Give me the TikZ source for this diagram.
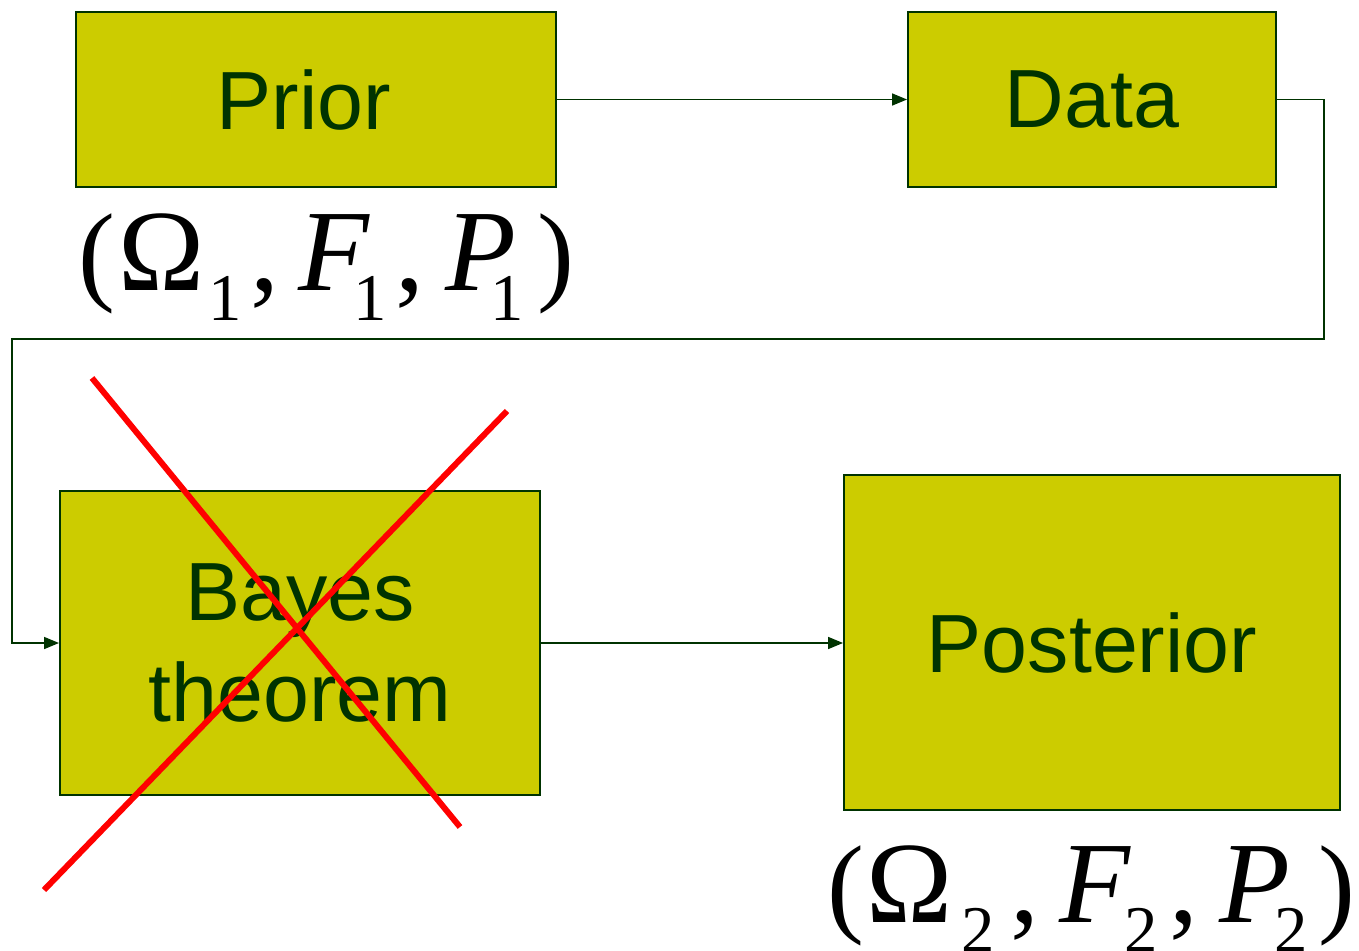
\documentclass[tikz,border=0pt]{standalone}
\usepackage{fontspec}
\setmainfont{Liberation Sans}
\newfontfamily\tms{Liberation Serif}
\usetikzlibrary{arrows.meta}
\definecolor{boxfill}{RGB}{204,204,0}
\definecolor{dgreen}{RGB}{0,51,0}
\definecolor{xred}{RGB}{255,0,0}
\newlength\pxu
\setlength\pxu{0.02cm}
\newcommand\gl[2]{\makebox[#1\pxu][l]{#2}}
\newcommand\sbs[2]{\raisebox{-#1\pxu}{\fontsize{38}{38}\selectfont #2}}
\newcommand\pr[1]{{\fontsize{63}{63}\selectfont #1}}
\begin{document}
\begin{tikzpicture}[x=0.02cm,y=-0.02cm,
  blk/.style={draw=dgreen,line width=1.1pt,fill=boxfill,text=dgreen,inner sep=0pt,
    font=\fontsize{47}{58}\selectfont,align=center},
  conn/.style={draw=dgreen,line width=0.9pt,-{Triangle[length=0.3cm,width=0.24cm]}},
  cross/.style={draw=xred,line width=3.4pt},
  mathlab/.style={inner sep=0pt,anchor=base west,font=\tms\fontsize{66}{66}\selectfont}]
\useasboundingbox (0,0) rectangle (1359,950);
\node[blk,minimum width=480*0.02cm,minimum height=175*0.02cm] (prior) at (316,99.5) {Prior\hspace*{24\pxu}};
\node[blk,minimum width=368*0.02cm,minimum height=175*0.02cm] (data) at (1092,99.5) {Data};
\node[blk,minimum width=480*0.02cm,minimum height=304*0.02cm] (bayes) at (300,643) {Bayes\\theorem};
\node[blk,minimum width=496*0.02cm,minimum height=335*0.02cm] (post) at (1092,642.5) {Posterior};
\node[mathlab] (lab1) at (78,290) {\gl{40.5}{\pr{(}}\gl{89.5}{Ω}\gl{42}{\sbs{30}{1}}\gl{48}{,}\gl{55}{\textit{F}}\gl{42}{\sbs{30}{1}}\gl{50}{,}\gl{45}{\textit{P}}\gl{47}{\sbs{30}{1}}\gl{36}{\pr{)}}};
\node[mathlab] (lab2) at (827,922) {\gl{39.5}{\pr{(}}\gl{94.5}{Ω}\gl{49}{\sbs{30}{2}}\gl{49}{,}\gl{65}{\textit{F}}\gl{45}{\sbs{30}{2}}\gl{50}{,}\gl{55}{\textit{P}}\gl{44}{\sbs{30}{2}}\gl{36}{\pr{)}}};
\coordinate (c1) at (1324,99.5);
\coordinate (c2) at (1324,339);
\coordinate (c3) at (12,339);
\coordinate (c4) at (12,643);
\draw[conn] (prior.east) -- (data.west);
\draw[conn] (data.east) -- (c1) -- (c2) -- (c3) -- (c4) -- (bayes.west);
\draw[conn] (bayes.east) -- (post.west |- bayes.east);
\coordinate (x1a) at (92,378);
\coordinate (x1b) at (460,827);
\coordinate (x2a) at (507,411);
\coordinate (x2b) at (44,890);
\draw[cross] (x1a) -- (x1b);
\draw[cross] (x2a) -- (x2b);
\end{tikzpicture}
\end{document}
